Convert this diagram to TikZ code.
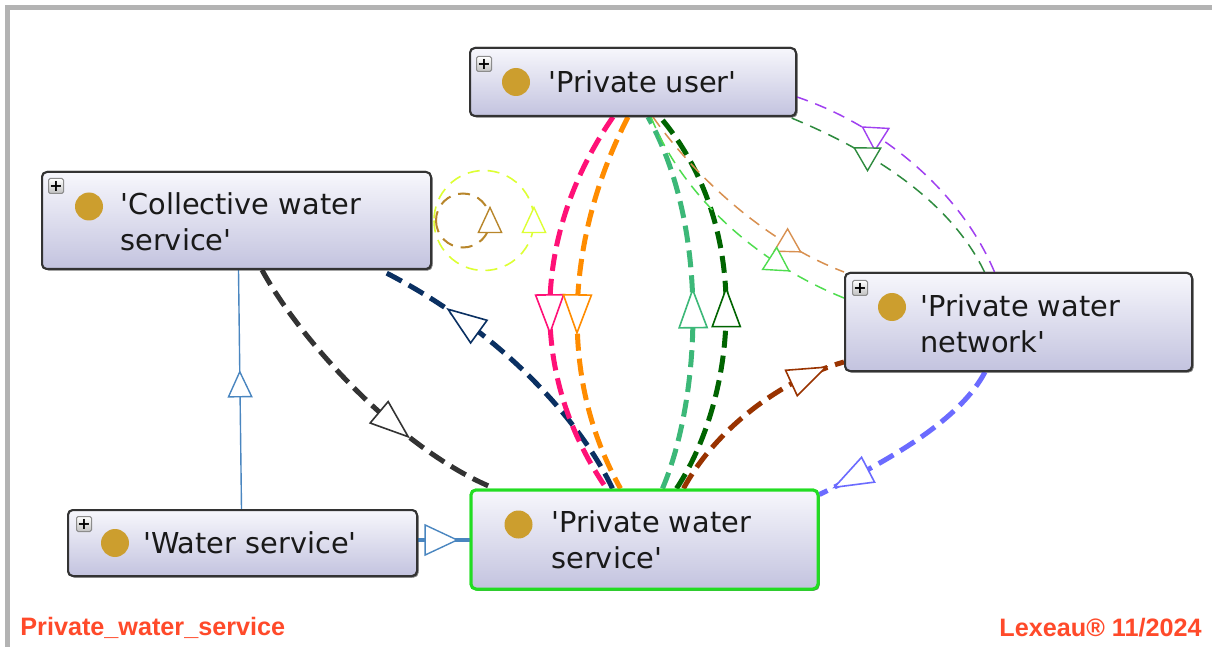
\documentclass[tikz,border=0pt]{standalone}
\usepackage{fontspec}
\setmainfont{DejaVu Sans}
\newfontfamily\footfont{Liberation Sans}
\usetikzlibrary{decorations.markings,shadows}

\definecolor{cpink}{HTML}{FF1177}
\definecolor{corange}{HTML}{FF8C00}
\definecolor{cmedgreen}{HTML}{3CB878}
\definecolor{cdkgreen}{HTML}{006400}
\definecolor{cbrown}{HTML}{993300}
\definecolor{cviolet}{HTML}{6B6BFF}
\definecolor{cperu}{HTML}{D89050}
\definecolor{cltgreen}{HTML}{4FDD4F}
\definecolor{cpurple}{HTML}{A040F0}
\definecolor{cforest}{HTML}{2E8B3E}
\definecolor{cdkgrey}{HTML}{333333}
\definecolor{cnavy}{HTML}{0A3062}
\definecolor{cblue}{HTML}{4A86C0}
\definecolor{cyellow}{HTML}{DDFF33}
\definecolor{cloopbrown}{HTML}{B8862B}
\definecolor{cgold}{HTML}{CC9E2E}
\definecolor{cframe}{HTML}{B3B3B3}
\definecolor{cfoot}{HTML}{FF4A2A}
\definecolor{cboxtop}{HTML}{F7F7FC}
\definecolor{cboxbot}{HTML}{C3C3DF}
\definecolor{cgreenframe}{HTML}{22DD22}

\newcommand\sq{\textquotesingle}

\tikzset{
  box/.style={draw=black!80, line width=1pt, rounded corners=2.5pt,
    top color=cboxtop, bottom color=cboxbot, inner sep=0pt,
    drop shadow={shadow xshift=0.8pt, shadow yshift=-0.8pt, opacity=0.3, fill=black}},
  selbox/.style={box, draw=cgreenframe, line width=1.5pt},
  plusbox/.style={draw=black!45, line width=0.5pt, rounded corners=0.8pt,
    top color=white, bottom color=black!25, minimum size=7.5pt, inner sep=0pt,
    font=\fontsize{8}{8}\selectfont\bfseries},
  dot/.style={circle, fill=cgold, minimum size=14pt, inner sep=0pt},
  label/.style={anchor=west, align=left, inner sep=0pt, text=black!90,
    font=\fontsize{14.4pt}{18pt}\selectfont},
  foot/.style={inner sep=0pt, text=cfoot, font=\footfont\bfseries\fontsize{12.6pt}{14pt}\selectfont},
  thickd/.style={line width=2.5pt, dash pattern=on 8.5pt off 4pt},
  thind/.style={line width=0.75pt, dash pattern=on 6pt off 4pt},
  bigtri/.style={postaction={decorate,decoration={markings,mark=at position #1 with
    {\draw[solid,fill=white,line width=0.8pt,line join=miter] (9.5pt,0pt) -- (-9.5pt,7pt) -- (-9.5pt,-7pt) -- cycle;}}}},
  smalltri/.style={postaction={decorate,decoration={markings,mark=at position #1 with
    {\draw[solid,fill=white,line width=0.7pt,line join=miter] (6pt,0pt) -- (-5.5pt,6.5pt) -- (-5.5pt,-6.5pt) -- cycle;}}}},
  subtri/.style={postaction={decorate,decoration={markings,mark=at position #1 with
    {\draw[solid,fill=white,line width=0.7pt,line join=miter] (6.5pt,0pt) -- (-6pt,5.8pt) -- (-6pt,-5.8pt) -- cycle;}}}},
  wstri/.style={postaction={decorate,decoration={markings,mark=at position #1 with
    {\draw[solid,fill=white,line width=0.7pt,line join=miter] (8pt,0pt) -- (-8pt,7.5pt) -- (-8pt,-7.5pt) -- cycle;}}}},
}

\begin{document}
\begin{tikzpicture}[x=0.5pt,y=-0.5pt]
\useasboundingbox (0,0) rectangle (1212,647);
\fill[white] (0,0) rectangle (1212,647);
\draw[cframe, line width=2.5pt] (7.5,647) -- (7.5,7.5) -- (1212,7.5);

% node boxes (positions only)
\path (633,82) node[box, minimum width=163pt, minimum height=34pt] (pu) {};
\path (236.5,220.5) node[box, minimum width=194.5pt, minimum height=48.5pt] (cws) {};
\path (1018.5,322) node[box, minimum width=173.5pt, minimum height=49pt] (pwn) {};
\path (242.5,543) node[box, minimum width=174.5pt, minimum height=33pt] (ws) {};
\path (644.5,539.5) node[selbox, minimum width=173.5pt, minimum height=49.5pt] (pws) {};

% self loops on Collective water service (behind box)
\draw[cyellow, line width=0.8pt, dash pattern=on 6pt off 4pt, subtri=0.5]
  ([xshift=1pt]cws.east) arc[start angle=180, end angle=-180, radius=50];
\draw[cloopbrown, line width=1pt, dash pattern=on 6pt off 4pt, subtri=0.5]
  ([xshift=2pt]cws.east) arc[start angle=180, end angle=-180, radius=27];

% connectors
\draw[cblue, line width=0.7pt, subtri=0.52] ([xshift=-0.5pt]ws.north) -- ([xshift=1pt]cws.south);
\draw[cblue, line width=1.6pt, wstri=0.45] ([yshift=1.5pt]ws.east) -- ([yshift=1.5pt]ws.east -| pws.west);

\draw[cdkgrey, thickd, bigtri=0.63] ([xshift=12.75pt]cws.south) .. controls (300,340) and (400,450) .. ([xshift=-75pt]pws.north);
\draw[cnavy, thickd, bigtri=0.7] ([xshift=-16pt]pws.north) .. controls (580,420) and (500,330) .. ([xshift=72pt]cws.south);

\draw[cpink, thickd, bigtri=0.53] ([xshift=-10pt]pu.south) .. controls (535,230) and (525,370) .. ([xshift=-19pt]pws.north);
\draw[corange, thickd, bigtri=0.53] ([xshift=-2.5pt]pu.south) .. controls (570,230) and (554,370) .. ([xshift=-12pt]pws.north);
\draw[cmedgreen, thickd, bigtri=0.48] ([xshift=9pt]pws.north) .. controls (700,400) and (711,230) .. ([xshift=7.5pt]pu.south);
\draw[cdkgreen, thickd, bigtri=0.48] ([xshift=16pt]pws.north) .. controls (735,400) and (756,230) .. ([xshift=13.5pt]pu.south);

\draw[cbrown, thickd, bigtri=0.82] ([xshift=19.5pt]pws.north) .. controls (715,430) and (780,380) .. ([yshift=-20pt]pwn.west);
\draw[cviolet, thickd, bigtri=0.83] ([xshift=-16.75pt]pwn.south) .. controls (960,420) and (890,460) .. ([yshift=-3pt]pws.north east);

\draw[cperu, thind, smalltri=0.76] ([xshift=10pt]pu.south) .. controls (690,170) and (760,240) .. (pwn.north west);
\draw[cltgreen, thind, smalltri=0.73] ([xshift=9pt]pu.south) .. controls (680,190) and (750,260) .. ([yshift=12pt]pwn.west);
\draw[cpurple, thind, smalltri=0.69] ([xshift=-12pt]pwn.north) .. controls (960,190) and (880,125) .. ([yshift=-7.5pt]pu.east);
\draw[cforest, thind, smalltri=0.67] ([xshift=-17pt]pwn.north) .. controls (950,200) and (870,150) .. ([xshift=-4pt]pu.south east);

% redraw boxes on top
\path (633,82) node[box, minimum width=163pt, minimum height=34pt] (pu2) {};
\path (236.5,220.5) node[box, minimum width=194.5pt, minimum height=48.5pt] (cws2) {};
\path (1018.5,322) node[box, minimum width=173.5pt, minimum height=49pt] (pwn2) {};
\path (242.5,543) node[box, minimum width=174.5pt, minimum height=33pt] (ws2) {};
\path (644.5,539.5) node[selbox, minimum width=173.5pt, minimum height=49.5pt] (pws2) {};

% icons
\node[plusbox] (pu-plus) at ([xshift=7.5pt,yshift=-8.5pt]pu.north west) {+};
\node[plusbox] (cws-plus) at ([xshift=7.5pt,yshift=-7.5pt]cws.north west) {+};
\node[plusbox] (pwn-plus) at ([xshift=8pt,yshift=-8pt]pwn.north west) {+};
\node[plusbox] (ws-plus) at ([xshift=8.5pt,yshift=-7.5pt]ws.north west) {+};

\node[dot] (pu-dot) at ([xshift=23.5pt]pu.west) {};
\node[dot] (cws-dot) at ([xshift=24pt,yshift=7pt]cws.west) {};
\node[dot] (pwn-dot) at ([xshift=24pt,yshift=7.5pt]pwn.west) {};
\node[dot] (ws-dot) at ([xshift=24pt]ws.west) {};
\node[dot] (pws-dot) at ([xshift=24.5pt,yshift=7.5pt]pws.west) {};

% labels
\node[label] (pu-t) at (548,82) {\sq Private user\sq};
\node[label] (cws-t) at (120,222) {\sq Collective water\\service\sq};
\node[label] (pwn-t) at (920,324) {\sq Private water\\network\sq};
\node[label] (ws-t) at (143,543) {\sq Water service\sq};
\node[label] (pws-t) at (551,540) {\sq Private water\\service\sq};

% footer
\node[foot, anchor=west] (fl) at (20,628) {Private\_water\_service};
\node[foot, anchor=east] (fr) at (1202,628) {Lexeau® 11/2024};
\end{tikzpicture}
\end{document}
